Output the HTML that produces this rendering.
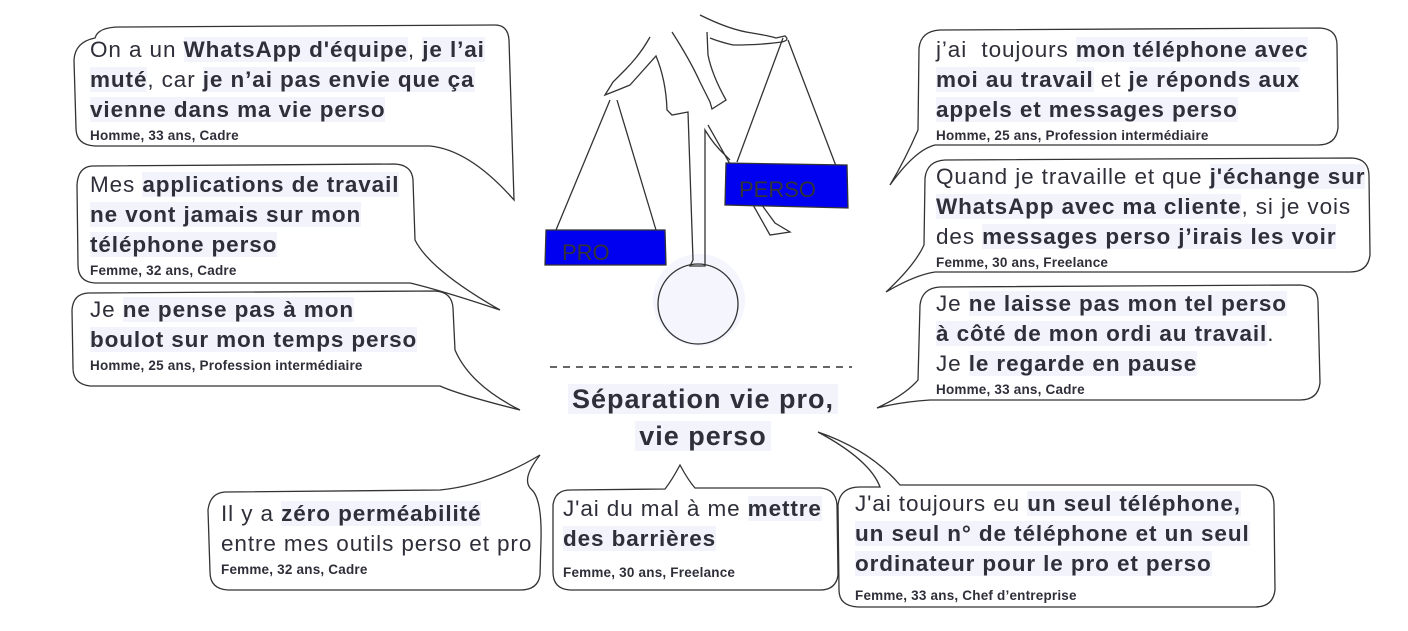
<!DOCTYPE html>
<html><head><meta charset="utf-8"><style>
body{margin:0;width:1408px;height:631px;background:#fff;position:relative;overflow:hidden;font-family:"Liberation Sans",sans-serif;color:#2f2f3a}
.t{position:absolute;font-size:22.5px;letter-spacing:0.9px;line-height:30px;white-space:nowrap}
.t b{background:#f3f3fb;font-weight:bold}
.s{display:block;font-size:13.5px;letter-spacing:0.2px;font-weight:bold;line-height:18px;margin-top:2px}
svg{position:absolute;left:0;top:0}
.title{position:absolute;left:503px;width:400px;top:381px;text-align:center;font-size:27px;letter-spacing:1px;font-weight:bold;line-height:37px}
.title span{background:#f3f3fb;padding:0 4px}
</style></head><body>
<svg width="1408" height="631" fill="none" stroke="#333" stroke-width="1.3">
<path d="M95 38 Q98 27 120 27 L495 25 Q508 25 509 40 L514 200 Q470 150 430 146 L95 146 Q76 145 76 128 L74 60 Q75 42 95 38Z"/>
<path d="M92 166 L395 164 Q412 165 413 180 L415 240 Q430 270 500 310 Q440 290 410 283 L95 283 Q78 282 78 265 L77 185 Q78 167 92 166Z"/>
<path d="M88 293 L435 291 Q452 292 453 308 L455 350 Q470 385 520 410 Q460 395 440 386 L90 386 Q73 384 73 368 L72 310 Q73 294 88 293Z"/>
<path d="M940 30 L1320 28 Q1337 29 1337 45 L1338 128 Q1336 145 1318 145 L935 145 Q915 150 890 185 Q905 160 918 130 L919 48 Q921 31 940 30Z"/>
<path d="M945 160 L1352 158 Q1369 159 1369 176 L1370 255 Q1368 272 1350 272 L935 272 Q915 275 886 292 Q915 265 924 245 L925 178 Q927 161 945 160Z"/>
<path d="M940 287 L1300 285 Q1318 286 1318 302 L1320 383 Q1318 400 1300 400 L930 400 Q900 402 877 408 Q905 395 918 380 L920 305 Q922 288 940 287Z"/>
<path d="M225 492 L440 490 Q490 485 540 455 Q520 480 532 490 Q542 500 541 540 L540 575 Q538 590 520 590 L228 590 Q210 589 210 572 L208 510 Q210 493 225 492Z"/>
<path d="M570 490 L665 489 Q672 480 680 465 Q688 480 695 488 L820 488 Q836 489 837 505 L838 575 Q836 590 820 590 L570 590 Q553 589 553 572 L553 505 Q555 490 570 490Z"/>
<path d="M880 487 Q870 460 818 432 Q870 450 900 485 L1255 485 Q1274 487 1274 505 L1275 590 Q1273 607 1255 607 L858 607 Q839 606 839 590 L838 505 Q840 487 860 487Z"/>
<path d="M550 367 L852 367" stroke-dasharray="7 6" stroke-width="1.5"/>
<!-- figure -->
<circle cx="699" cy="300" r="46" fill="#f4f5fd" stroke="none"/>
<circle cx="698" cy="304" r="40"/>
<path d="M700 15 Q730 30 752 33 Q770 36 776 38 L785 36 Q790 40 782 42 Q760 45 733 45 Q720 42 710 38"/>
<path d="M650 37 Q640 55 625 70 L613 82 L605 95 Q618 90 630 85 L656 56 Q666 80 667 110 L672 115 L688 112 L693 260 L690 266 L705 266 L705 130 Q714 145 725 155 L730 160"/>
<path d="M672 32 Q690 60 700 82 L710 102 L712 109 L726 100 Q712 75 708 55 L707 32"/>
<path d="M708 125 L770 235 L790 232 L775 223 L740 175"/>
<path d="M610 100 L556 230 M617 100 L656 230"/>
<path d="M783 38 L737 162 M788 40 L836 166"/>
<path d="M546 230 L665 230 L666 265 L545 265Z" fill="#0000f0"/>
<path d="M726 163 L847 165 L848 208 L725 205Z" fill="#0000f0"/>
<text x="562" y="260" font-family="Liberation Sans" font-size="22" fill="#333" stroke="none">PRO</text>
<text x="739" y="197" font-family="Liberation Sans" font-size="22" fill="#333" stroke="none">PERSO</text>
</svg>

<div class="t" style="left:90px;top:35px">On a un <b>WhatsApp d'équipe</b>, <b>je l’ai</b><br><b>muté</b>, car <b>je n’ai pas envie que ça</b><br><b>vienne dans ma vie perso</b><span class="s">Homme, 33 ans, Cadre</span></div>
<div class="t" style="left:90px;top:170px">Mes <b>applications de travail</b><br><b>ne vont jamais sur mon</b><br><b>téléphone perso</b><span class="s">Femme, 32 ans, Cadre</span></div>
<div class="t" style="left:90px;top:295px">Je <b>ne pense pas à mon</b><br><b>boulot sur mon temps perso</b><span class="s">Homme, 25 ans, Profession intermédiaire</span></div>
<div class="t" style="left:936px;top:35px">j’ai &nbsp;toujours <b>mon téléphone avec</b><br><b>moi au travail</b> et <b>je réponds aux</b><br><b>appels et messages perso</b><span class="s">Homme, 25 ans, Profession intermédiaire</span></div>
<div class="t" style="left:936px;top:162px">Quand je travaille et que <b>j'échange sur</b><br><b>WhatsApp avec ma cliente</b>, si je vois<br>des <b>messages perso j’irais les voir</b><span class="s">Femme, 30 ans, Freelance</span></div>
<div class="t" style="left:936px;top:289px">Je <b>ne laisse pas mon tel perso</b><br><b>à côté de mon ordi au travail</b>.<br>Je <b>le regarde en pause</b><span class="s">Homme, 33 ans, Cadre</span></div>
<div class="t" style="left:221px;top:499px">Il y a <b>zéro perméabilité</b><br>entre mes outils perso et pro<span class="s">Femme, 32 ans, Cadre</span></div>
<div class="t" style="left:563px;top:494px">J'ai du mal à me <b>mettre</b><br><b>des barrières</b><span class="s" style="margin-top:10px">Femme, 30 ans, Freelance</span></div>
<div class="t" style="left:855px;top:489px">J'ai toujours eu <b>un seul téléphone,</b><br><b>un seul n° de téléphone et un seul</b><br><b>ordinateur pour le pro et perso</b><span class="s" style="margin-top:8px">Femme, 33 ans, Chef d’entreprise</span></div>
<div class="title"><span>Séparation vie pro,</span><br><span>vie perso</span></div>
</body></html>
